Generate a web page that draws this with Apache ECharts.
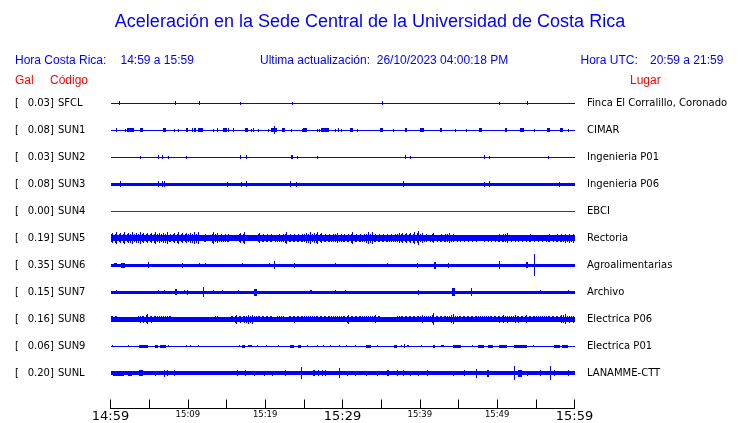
<!DOCTYPE html>
<html>
<head>
<meta charset="utf-8">
<script src="https://cdn.jsdelivr.net/npm/echarts@6/dist/echarts.min.js"></script>
<style>html,body{margin:0;padding:0;background:#fff}#c{width:740px;height:423px}</style>
</head>
<body>
<div id="c"></div>
<script>
// ---------- data ----------
const titleText = 'Aceleración en la Sede Central de la Universidad de Costa Rica';
const hdrLocalLabel = 'Hora Costa Rica:';
const hdrLocalRange = '14:59 a 15:59';
const hdrUpdate = 'Ultima actualización:  26/10/2023 04:00:18 PM';
const hdrUtcLabel = 'Hora UTC:';
const hdrUtcRange = '20:59 a 21:59';
const colGal = 'Gal', colCode = 'Código', colPlace = 'Lugar';

const codes  = ['SFCL','SUN1','SUN2','SUN3','SUN4','SUN5','SUN6','SUN7','SUN8','SUN9','SUNL'];
const gal    = ['0.03','0.08','0.03','0.08','0.00','0.19','0.35','0.15','0.16','0.06','0.20'];
const places = ['Finca El Corralillo, Coronado','CIMAR','Ingenieria P01','Ingenieria P06','EBCI','Rectoria','Agroalimentarias','Archivo','Electrica P06','Electrica P01','LANAMME-CTT'];

// minutes from 14:59; labels every 10 min
const tickLabels = ['14:59','15:09','15:19','15:29','15:39','15:49','15:59'];

// half-thickness of each trace's quiet band (trace units)
const baseAmp = [0.5,0.5,0.5,1.5,0.5,3,1.5,1.5,2.5,0.5,1.7];

// events: [minute, half-amplitude, duration(min, optional)]
const sfclEv = [[1.07,2],[8.3,2],[11.4,2],[16.7,1.5],[23.5,1.2],[35.1,2],[50.3,1.2],[53.8,2]];
const sun1Ev = [[0.65,2],[1.85,1.5],[2.15,2,0.85],[3.8,2,0.45],[6.8,2,0.4],[8.26,1.5],[8.7,1.2],[9.8,2,0.2],[10.5,2,0.15],[10.8,2,0.2],[11.3,2,0.6],[13.2,1.5],[13.8,2],[14.5,2,0.5],[15.2,2],[15.8,2,0.15],[17.4,2,0.4],[18.2,1.5],[18.4,2],[19.1,1.5],[20.4,1.5],[20.7,2,0.8],[21.1,4],[22.2,2,0.4],[23.3,1.5],[24.7,1.2],[24.9,2,0.5],[26.7,1.5],[26.9,1.5],[27.2,2,1.0],[29.0,1.5],[29.4,2,0.2],[29.8,1.5],[31,2,0.3],[31.9,1.5],[34.8,2,0.4],[36.5,1.5],[38.1,2,0.3],[40,2,0.5],[42.6,2,0.3],[44.5,1.5],[46,1.5],[47.7,2,0.4],[51,2,0.3],[52.9,2,0.6],[54.8,1.5],[56.5,2,0.3],[58.1,2,0.4],[59.1,1.5]];
const sun2Ev = [[3.8,1.2],[6.1,2],[6.6,2],[7.4,1.5],[9.7,1.5],[16.7,2],[17.5,2],[23.3,2,0.3],[24.1,1.2],[26.7,1.2],[38.1,2],[38.7,1.5],[48.3,2],[49,1.5],[56.6,1.5]];
const sun3Ev = [[1.2,3],[6.1,3],[6.6,3],[6.9,3],[15.1,2.5],[16.9,2.5],[17.5,3],[23.2,3],[24.0,2.5],[37.8,3],[48.3,2.5],[49,3],[58,2.5]];
const sun4Ev = [];
const sun6Ev = [[0.5,2,0.3],[1.3,2.5,0.6],[4.8,3],[9.2,2.5,0.2],[11.4,2],[12.2,1.8],[17.0,2],[20.5,2],[21.1,4],[23.7,2.5],[29,1.8],[35.7,2],[39.6,2.5],[41.8,3.5,0.3],[43.7,2.5],[50.2,4],[53.7,3,0.3],[54.75,11]];
const sun7Ev = [[0.73,2],[6.2,2],[6.9,2],[8.4,3,0.2],[9.5,2],[9.9,2.5],[12.0,5.3],[13.3,2],[14.4,2],[16.5,2],[18.6,3.5,0.3],[25.8,2,0.2],[29.0,2],[30.3,2],[39.8,2.5],[44.2,4,0.3],[46.6,4],[55.5,2],[59.1,2]];
const sun9Ev = [[0.2,1],[2.2,1],[3.7,1.5,1.2],[5.8,1.5,0.3],[6.4,1.5,0.8],[7.4,1],[9.7,1],[10.3,1],[11.3,1],[16.6,1],[17.0,1.5,0.4],[17.8,1,0.5],[19,1],[20.1,1],[21.7,1],[23.2,1.5,0.5],[24.3,1.5,0.3],[25.4,1],[26.7,1],[27.5,1],[28.4,1],[29.5,1],[30.5,1],[31.6,1],[33.1,1.5,0.6],[34.4,1],[36.6,1.5,0.4],[37.6,1],[38.0,2],[38.3,1,0.3],[40.2,1],[41.7,1.5,0.2],[42.8,1,0.3],[44.3,1.5,1.0],[46.7,1],[47.5,1.5,0.8],[48.8,1.5,0.6],[50.3,1.5,1.0],[52.2,1.5,1.6],[54.6,1],[57.4,1.5,0.7],[58.4,1.5,0.7]];
const sunlEv = [[0.3,2.5,1.5],[2.3,2.5,0.5],[3.7,3,0.5],[5.8,2.5],[6.9,3.5],[7.3,3],[8.2,3],[10.5,2],[13.1,2],[14.4,2],[16.3,3],[17.4,3],[18.5,2.5],[19.9,2.5],[20.9,2.5],[22.6,3],[24.6,6],[26.2,3,0.3],[26.8,3],[27.3,3],[27.8,3],[29.5,5],[30.6,2.5],[31.6,2.5],[33.1,2.5],[34.4,2.5],[35.8,3,0.2],[37,3],[37.8,3],[38.7,2.5],[39.8,2.5],[40.9,3],[44.3,2.5],[45.7,3],[47.2,4.5],[48.7,3.5,0.2],[52.2,7],[52.7,3.5,0.5],[53.8,2.5],[55.5,3],[56.8,7],[57.3,3],[59.2,3]];

// noisy traces: envelope peak half-amplitude per half minute (120 bins)
const sun5Env = [5,6,5,6,5,6,5,6,5,5, 5,6,5,5,6,4,5,6,5,5, 5,6,6,3,4,3,6,5,4,4, 4,3,3,5,6,2.5,2.5,3,5,4, 4,4,3.5,4,4,6,4,4,4,4, 5,6,5,6,5,4,4,4,5,4, 4,4,6,4,4,4,6,6,4,4, 4,4,4,4,5,5,5,5,6,7, 5,4,3.5,5,3.5,4,4,5,4,3.5, 3.5,3.5,3.5,3.5,3.5,3,3.5,3.5,3.5,3.5, 4,4,5,3.5,3.5,3.5,3.5,3.5,4,3.5, 3.5,3.5,3.5,4,3.5,4,4,4.5,4.5,4.5];
const sun8Env = [3,3,2.5,2.5,2.5,2.5,2.5,3.5,3.5,5, 3.5,3,3,3,3,3,2.5,2.5,2.5,2.5, 2.5,2.5,2.5,2.5,2.5,2.5,2.5,3,2.5,2.5, 2.5,3,4.5,3.5,3.5,4.5,4.5,3,3,3, 3,3,2.5,3,3,2.5,3,3.5,3,3, 3,3,3,3,3,3,3,3,3,3, 3,4.5,3,3,3,3,3,3,4,3, 1.5,1.5,1.5,1.5,3,3,3,3,3,3, 4,3,3,6,3,3,3,3,5,3, 3,3,3,3,3,3,3,3,3,3, 3.5,4,3.5,3,4,3.5,3,4,3,3, 3,3,3,3,3,3,4,5,3.5,3.5];

const traceEvents = [sfclEv,sun1Ev,sun2Ev,sun3Ev,sun4Ev,null,sun6Ev,sun7Ev,null,sun9Ev,sunlEv];
const traceEnv = {5: sun5Env, 8: sun8Env};
const traceColors = ['#0000ff','#0000ff','#0000ff','#0000ff','#d40000','#0000ff','#0000ff','#0000ff','#0000ff','#0000ff','#0000ff'];

// ---------- chart ----------
const ROW = 27, NROW = codes.length;
const BIN = 0.5, SPIKE = 0.13, SPAN = 60;
const chart = echarts.init(document.getElementById('c'), null, {renderer: 'canvas'});

function rowCenter(i){ return ROW/2 + ROW*i; }

const series = codes.map((code, i) => {
  const c = rowCenter(i);
  const data = [[0, baseAmp[i], SPAN, c]];
  if (traceEnv[i]) traceEnv[i].forEach((a, k) => {
    // peak of each half-minute bin drawn as a thin stroke, shoulder around it
    data.push([k*BIN + BIN*0.5, a, SPIKE, c]);
    data.push([k*BIN + BIN*0.15, (a + baseAmp[i]) / 2, SPIKE, c]);
  });
  if (traceEvents[i]) traceEvents[i].forEach(e => data.push([e[0], e[1], e.length > 2 ? e[2] : SPIKE, c]));
  return {
    type: 'custom', name: code, xAxisIndex: 0, yAxisIndex: 2,
    silent: true, animation: false, clip: false,
    encode: {x: 0, y: 3},
    data: data,
    renderItem: function (params, api) {
      const t = api.value(0), a = api.value(1), d = api.value(2), cc = api.value(3);
      const p0 = api.coord([t, cc - a]);
      const p1 = api.coord([Math.min(t + d, SPAN), cc + a]);
      const x0 = Math.round(p0[0]);
      const x1 = Math.max(x0 + 1, Math.round(p1[0]));
      const ya = Math.round(Math.min(p0[1], p1[1]));
      const yb = Math.max(ya + 1, Math.round(Math.max(p0[1], p1[1])));
      return {type: 'rect', shape: {x: x0, y: ya, width: x1 - x0, height: yb - ya},
              style: {fill: traceColors[i]}};
    }
  };
});

function txt(x, y, s, font, fill, align) {
  return {type: 'text', x: x, y: y, silent: true,
    style: {text: s, font: font, fill: fill, align: align || 'left', verticalAlign: 'middle',
            textAlign: align || 'left', textVerticalAlign: 'middle'}};
}
const HF = '12px "Liberation Sans", Arial, sans-serif';
const BLUE = '#0000ff', RED = '#ff0000';

chart.setOption({
  animation: false,
  grid: {left: 110.5, right: 165.5, top: 90, height: ROW*NROW, containLabel: false},
  xAxis: [{
    type: 'value', min: 0, max: SPAN, interval: 5, position: 'bottom', offset: 22,
    axisLine: {show: true, onZero: false, lineStyle: {color: '#000', width: 1}},
    axisTick: {show: true, inside: true, length: 9, lineStyle: {color: '#000', width: 1}},
    splitLine: {show: false},
    axisLabel: {
      show: true, margin: 1, showMinLabel: true, showMaxLabel: true,
      formatter: function (v) {
        if (v % 10 !== 0) return '';
        const s = tickLabels[v/10];
        return v % 30 === 0 ? '{big|' + s + '}' : '{small|' + s + '}';
      },
      rich: {
        big: {fontFamily: 'DejaVu Sans', fontSize: 13, color: '#000', lineHeight: 14},
        small: {fontFamily: 'DejaVu Sans', fontSize: 8.5, color: '#000', lineHeight: 10}
      }
    }
  }],
  yAxis: [{
    type: 'category', position: 'left', inverse: true, data: codes,
    axisLine: {show: false}, axisTick: {show: false}, splitLine: {show: false},
    axisLabel: {
      margin: 95.5, align: 'left',
      formatter: function (v, idx) { return '{a|[}{n|' + gal[idx] + '}{b|]}{c|' + v + '}'; },
      rich: {
        a: {fontFamily: 'DejaVu Sans', fontSize: 10, color: '#000', width: 12.7},
        n: {fontFamily: 'DejaVu Sans', fontSize: 10, color: '#000'},
        b: {fontFamily: 'DejaVu Sans', fontSize: 10, color: '#000', width: 8},
        c: {fontFamily: 'DejaVu Sans', fontSize: 10, color: '#000'}
      }
    }
  }, {
    type: 'category', position: 'right', inverse: true, data: places,
    axisLine: {show: false}, axisTick: {show: false}, splitLine: {show: false},
    axisLabel: {margin: 12.5, align: 'left', fontFamily: 'DejaVu Sans', fontSize: 10, color: '#000'}
  }, {
    type: 'value', show: false, min: 0, max: ROW*NROW, inverse: true, splitLine: {show: false}
  }],
  graphic: [
    txt(370, 22, titleText, '18px "Liberation Sans", Arial, sans-serif', BLUE, 'center'),
    txt(15, 61, hdrLocalLabel, HF, BLUE),
    txt(120.5, 61, hdrLocalRange, HF, BLUE),
    txt(260, 61, hdrUpdate, HF, BLUE),
    txt(580.5, 61, hdrUtcLabel, HF, BLUE),
    txt(650, 61, hdrUtcRange, HF, BLUE),
    txt(15, 80.5, colGal, HF, RED),
    txt(50, 80.5, colCode, HF, RED),
    txt(630, 80.5, colPlace, HF, RED)
  ],
  series: series
});
</script>
</body>
</html>
